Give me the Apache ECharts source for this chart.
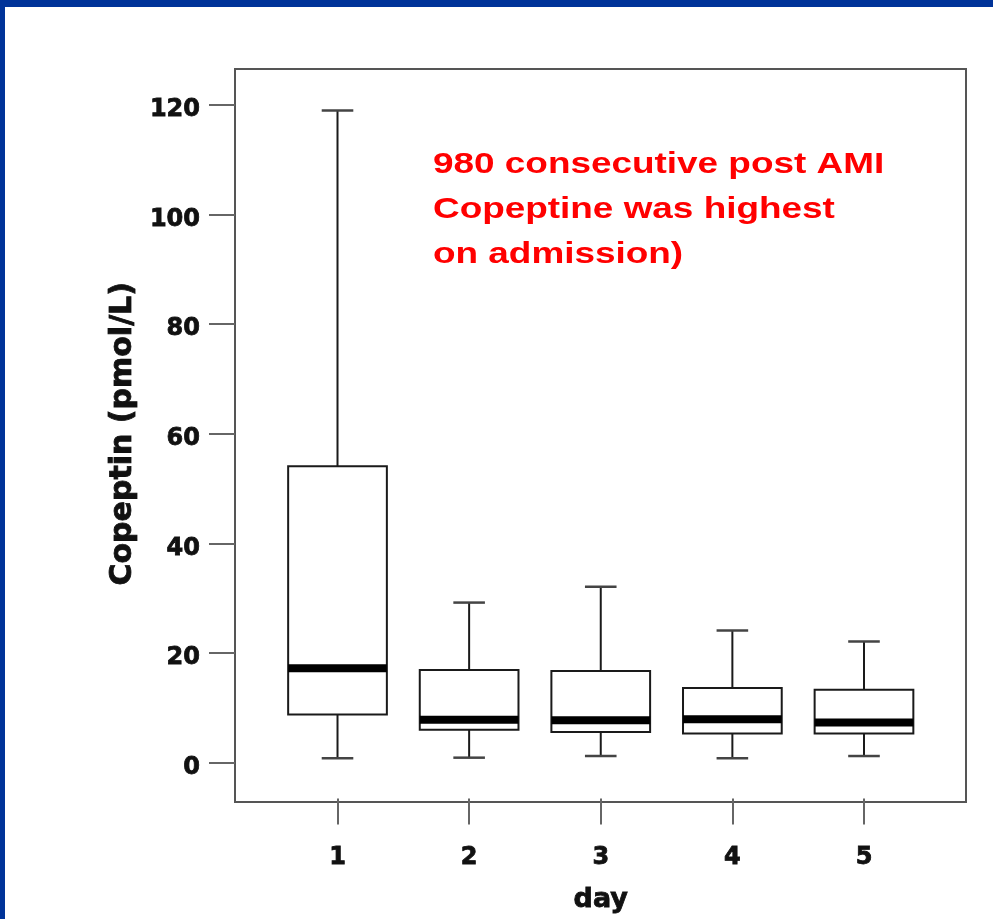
<!DOCTYPE html>
<html>
<head>
<meta charset="utf-8">
<script src="https://cdn.jsdelivr.net/npm/echarts@6/dist/echarts.min.js"></script>
<style>
  html, body { margin: 0; padding: 0; background: #ffffff; }
  #chart { width: 993px; height: 919px; }
</style>
</head>
<body>
<div id="chart"></div>
<script>
// Copeptin by day after admission: box = Q1..Q3, thick bar = median, whiskers = range
const days = ['1', '2', '3', '4', '5'];
const whiskerLow  = [0.8, 0.9, 1.2, 0.8, 1.2];
const quartile1   = [8.8, 6.0, 5.6, 5.3, 5.3];
const medians     = [17.2, 7.8, 7.75, 7.9, 7.3];
const quartile3   = [54.1, 16.9, 16.7, 13.6, 13.3];
const whiskerHigh = [119.0, 29.2, 32.1, 24.1, 22.1];
const yTicks = [0, 20, 40, 60, 80, 100, 120];

const noteLines = ['980 consecutive post AMI', 'Copeptine was highest', 'on admission)'];

const boxData = days.map((d, i) => [i, whiskerLow[i], quartile1[i], medians[i], quartile3[i], whiskerHigh[i]]);

const SANS = '"DejaVu Sans", sans-serif';
const heavy = { color: '#111111', fontFamily: SANS, fontWeight: 'bold', textBorderColor: '#111111', textBorderWidth: 0.8 };

function renderBox(params, api) {
  const i = api.value(0);
  const band = api.size([1, 0])[0];
  const halfBox = band * 0.375;
  const halfCap = band * 0.12;
  const x = api.coord([i, 0])[0];
  const yLo = api.coord([i, api.value(1)])[1];
  const yQ1 = api.coord([i, api.value(2)])[1];
  const yMed = api.coord([i, api.value(3)])[1];
  const yQ3 = api.coord([i, api.value(4)])[1];
  const yHi = api.coord([i, api.value(5)])[1];
  const stroke = { stroke: '#1a1a1a', lineWidth: 2, fill: null };
  const capStyle = { stroke: '#444', lineWidth: 2.5 };
  return {
    type: 'group',
    children: [
      { type: 'line', shape: { x1: x, y1: yQ3, x2: x, y2: yHi }, style: stroke },
      { type: 'line', shape: { x1: x, y1: yQ1, x2: x, y2: yLo }, style: stroke },
      { type: 'line', shape: { x1: x - halfCap, y1: yHi, x2: x + halfCap, y2: yHi }, style: capStyle },
      { type: 'line', shape: { x1: x - halfCap, y1: yLo, x2: x + halfCap, y2: yLo }, style: capStyle },
      { type: 'rect', shape: { x: x - halfBox, y: yQ3, width: halfBox * 2, height: yQ1 - yQ3 },
        style: { fill: '#ffffff', stroke: '#1a1a1a', lineWidth: 2 } },
      { type: 'rect', shape: { x: x - halfBox, y: yMed - 4, width: halfBox * 2, height: 8 },
        style: { fill: '#000000' } }
    ]
  };
}

const chart = echarts.init(document.getElementById('chart'), null, { renderer: 'canvas' });

chart.setOption({
  animation: false,
  backgroundColor: '#ffffff',
  graphic: [
    { type: 'rect', left: 0, top: 0, shape: { width: 993, height: 7 }, style: { fill: '#003399' }, z: 100 },
    { type: 'rect', left: 0, top: 0, shape: { width: 5, height: 919 }, style: { fill: '#003399' }, z: 100 },
    {
      type: 'text',
      x: 433,
      y: 142,
      scaleX: 1.23,
      z: 50,
      style: {
        text: noteLines.join('\n'),
        fill: '#ff0000',
        font: 'bold 30px "Liberation Sans", Arial, sans-serif',
        lineHeight: 45,
        verticalAlign: 'top',
        align: 'left'
      }
    }
  ],
  grid: [
    // data area: 0..120 between y=766 and y=105, category bands centred on the day ticks
    { left: 271.7, right: 63.2, top: 105, bottom: 153 },
    // plot frame
    { left: 235, right: 27, top: 69, bottom: 117, show: true, borderColor: '#555555', borderWidth: 2, backgroundColor: 'transparent' }
  ],
  xAxis: [
    {
      gridIndex: 0,
      type: 'category',
      data: days,
      boundaryGap: true,
      offset: 36,
      axisLine: { show: false, onZero: false },
      axisTick: { show: true, alignWithLabel: true, length: 26, lineStyle: { color: '#666666', width: 2 } },
      axisLabel: Object.assign({ margin: 47, fontSize: 24 }, heavy),
      name: 'day',
      nameLocation: 'middle',
      nameGap: 88,
      nameTextStyle: Object.assign({ fontSize: 27, verticalAlign: 'top' }, heavy),
      splitLine: { show: false }
    },
    { gridIndex: 1, type: 'value', show: false, min: 0, max: 1 }
  ],
  yAxis: [
    {
      gridIndex: 0,
      type: 'value',
      min: yTicks[0],
      max: yTicks[yTicks.length - 1],
      interval: 20,
      offset: 36.7,
      axisLine: { show: false, onZero: false },
      axisTick: { show: true, length: 26, lineStyle: { color: '#666666', width: 2 } },
      axisLabel: Object.assign({
        margin: 35,
        fontSize: 24,
        formatter: v => '{n|' + v + '}',
        rich: { n: Object.assign({ fontSize: 24, padding: [10, 0, 0, 0] }, heavy) }
      }, heavy),
      splitLine: { show: false },
      name: 'Copeptin (pmol/L)',
      nameLocation: 'middle',
      nameGap: 81,
      nameRotate: 90,
      nameTextStyle: Object.assign({ fontSize: 30 }, heavy)
    },
    { gridIndex: 1, type: 'value', show: false, min: 0, max: 1 }
  ],
  series: [
    {
      type: 'custom',
      xAxisIndex: 0,
      yAxisIndex: 0,
      data: boxData,
      renderItem: renderBox,
      clip: false,
      z: 5
    }
  ]
});
</script>
</body>
</html>
